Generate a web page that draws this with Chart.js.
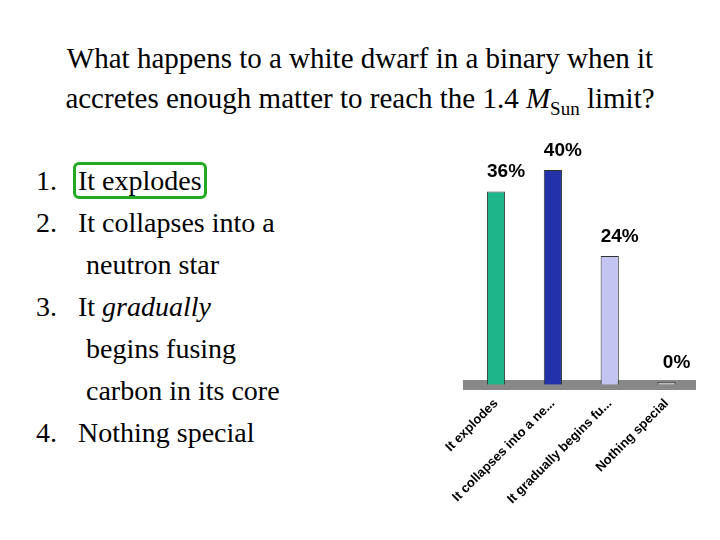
<!DOCTYPE html>
<html>
<head>
<meta charset="utf-8">
<script src="https://cdn.jsdelivr.net/npm/chart.js@4/dist/chart.umd.min.js"></script>
<style>
  body { margin: 0; width: 720px; height: 540px; background: #fff; position: relative; font-family: "Liberation Serif", "Times New Roman", serif; }
  #title { position: absolute; top: 38px; left: 0; width: 720px; text-align: center; font-size: 29px; line-height: 40px; }
  #list { position: absolute; top: 160px; left: 36px; width: 320px; font-size: 28px; line-height: 42px; }
  #list div { padding-left: 50px; text-indent: -50px; }
  .box { border: 3px solid #22aa22; border-radius: 6px; padding: 0 2px; margin-left: -5px; }
  #wrap { position: absolute; left: 445px; top: 140px; width: 260px; height: 370px; }
</style>
</head>
<body>
<div id="title">What happens to a white dwarf in a binary when it<br>accretes enough matter to reach the 1.4 <i>M</i><sub style="font-size:19px">Sun</sub> limit?</div>
<div id="list">
  <div>1.&nbsp;&nbsp;&nbsp;<span class="box">It explodes</span></div>
  <div>2.&nbsp;&nbsp;&nbsp;It collapses into a<br>neutron star</div>
  <div>3.&nbsp;&nbsp;&nbsp;It <i>gradually</i><br>begins fusing<br>carbon in its core</div>
  <div>4.&nbsp;&nbsp;&nbsp;Nothing special</div>
</div>
<div id="wrap"><canvas id="chart"></canvas></div>
<script>
const categories = ["It explodes", "It collapses into a ne...", "It gradually begins fu...", "Nothing special"];
const percents = [36, 40, 24, 0];
const barColors = ["#1fb58a", "#2233aa", "#c4c4f2", "#bbbbbb"];

const valueLabels = {
  id: "valueLabels",
  afterDatasetsDraw(chart) {
    const ctx = chart.ctx;
    const meta = chart.getDatasetMeta(0);
    ctx.save();
    ctx.font = "bold 19px 'Liberation Sans', Arial, sans-serif";
    ctx.fillStyle = "#000";
    ctx.textAlign = "center";
    meta.data.forEach((bar, i) => {
      ctx.fillText(percents[i] + "%", bar.x + 10, bar.y - 14);
    });
    ctx.restore();
  }
};

new Chart(document.getElementById("chart"), {
  type: "bar",
  data: {
    labels: categories,
    datasets: [{
      data: percents,
      backgroundColor: barColors,
      borderColor: "#333",
      borderWidth: 1,
      barPercentage: 0.4,
      minBarLength: 3
    }]
  },
  options: {
    responsive: true,
    maintainAspectRatio: false,
    animation: false,
    layout: { padding: { top: 30, right: 10 } },
    plugins: { legend: { display: false }, tooltip: { enabled: false } },
    scales: {
      y: { display: false, min: 0, max: 40 },
      x: {
        grid: { display: false },
        border: { color: "#888", width: 10 },
        ticks: {
          minRotation: 45,
          maxRotation: 45,
          color: "#000",
          font: { family: "'Liberation Sans', Arial, sans-serif", size: 13, weight: "bold" }
        }
      }
    }
  },
  plugins: [valueLabels]
});
</script>
</body>
</html>
